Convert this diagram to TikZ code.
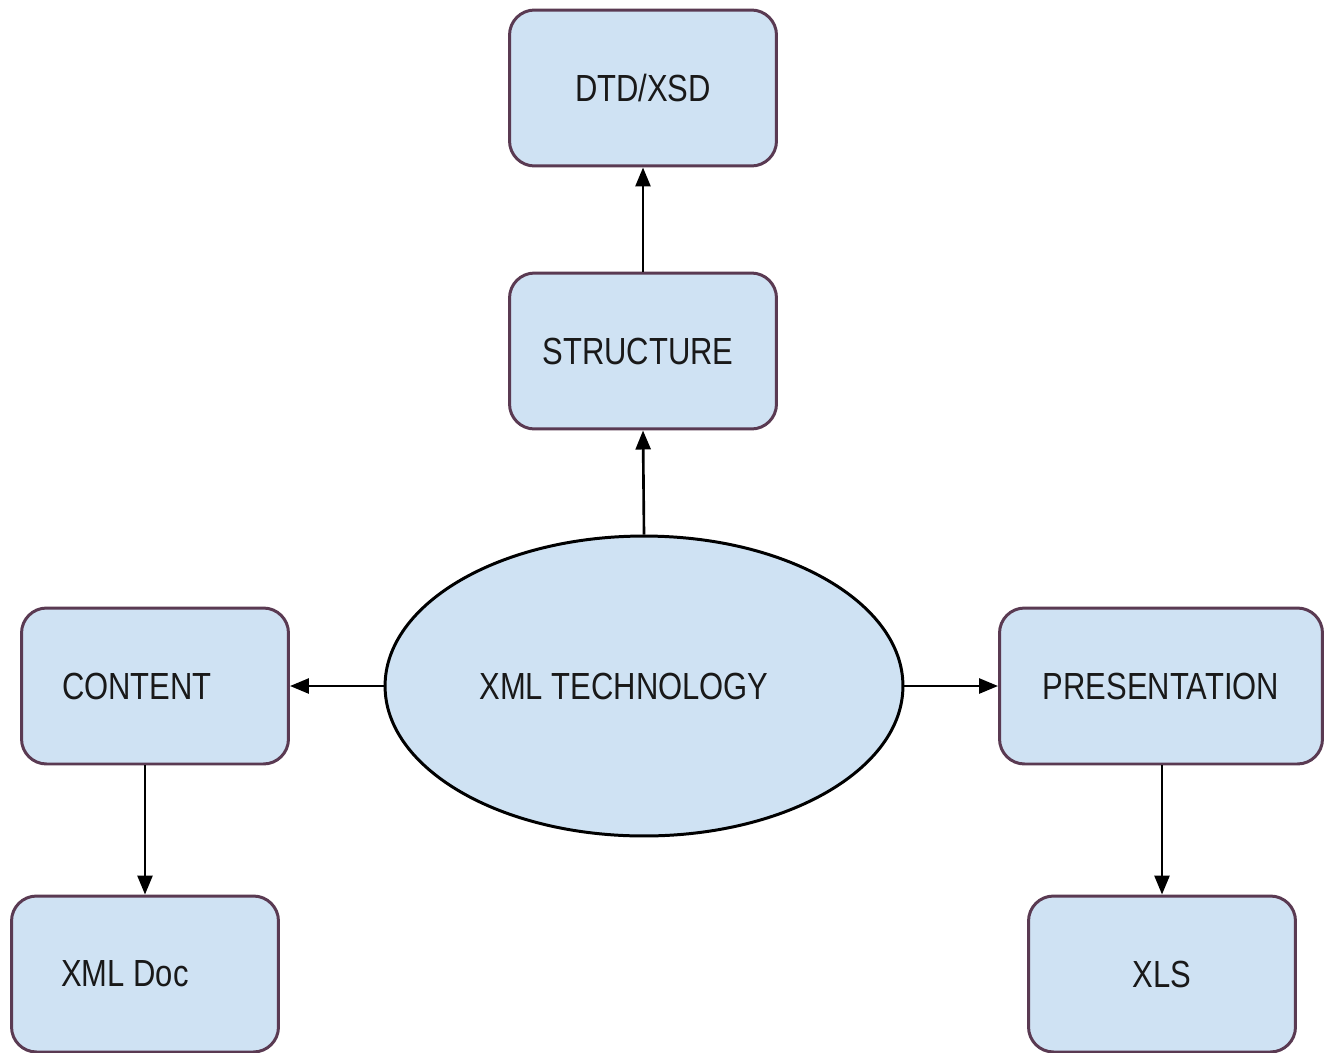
\documentclass[tikz,border=0pt]{standalone}
\usepackage{fontspec}
\newfontfamily\boxfont{Liberation Sans}[FakeStretch=0.82]
\usetikzlibrary{arrows.meta,shapes.geometric}
\definecolor{boxfill}{HTML}{CFE2F3}
\definecolor{boxline}{HTML}{5A3A52}
\newcommand{\padr}[1]{\kern#1\mbox{}}
\tikzset{
  box/.style={draw=boxline, line width=1.7pt, fill=boxfill, rounded corners=0.5cm,
    minimum width=5.34cm, minimum height=3.12cm, inner sep=0pt,
    font=\boxfont\fontsize{21.5pt}{24pt}\selectfont, text=black!90},
  oval/.style={draw=black, line width=1.7pt, fill=boxfill, ellipse,
    minimum width=10.36cm, minimum height=6.0cm, inner sep=0pt,
    font=\boxfont\fontsize{21.5pt}{24pt}\selectfont, text=black!90},
  conn/.style={line width=1.5pt, -{Triangle[length=0.38cm, width=0.3cm]}}
}
\begin{document}
\begin{tikzpicture}[x=0.02cm, y=-0.02cm]
\useasboundingbox[fill=white] (0,0) rectangle (1332,1052);
\node[box] (dtd) at (643,88) {DTD/XSD};
\node[box] (str) at (643,351) {STRUCTURE\padr{0.2cm}};
\node[box] (con) at (155,686) {CONTENT\padr{0.72cm}};
\node[box] (doc) at (145,974) {XML Doc\padr{0.8cm}};
\node[box, minimum width=6.46cm] (pre) at (1161,686) {PRESENTATION};
\node[box] (xls) at (1162,974) {XLS};
\node[oval] (xml) at (644,686) {XML TECHNOLOGY\padr{0.8cm}};
\draw[conn] (xml.north) -- (str.south);
\draw[conn] (str.north) -- (dtd.south);
\draw[conn] (xml.west) -- (con.east);
\draw[conn] (xml.east) -- (pre.west);
\draw[conn] (con.south -| doc.north) -- (doc.north);
\draw[conn] (pre.south -| xls.north) -- (xls.north);
\end{tikzpicture}
\end{document}
